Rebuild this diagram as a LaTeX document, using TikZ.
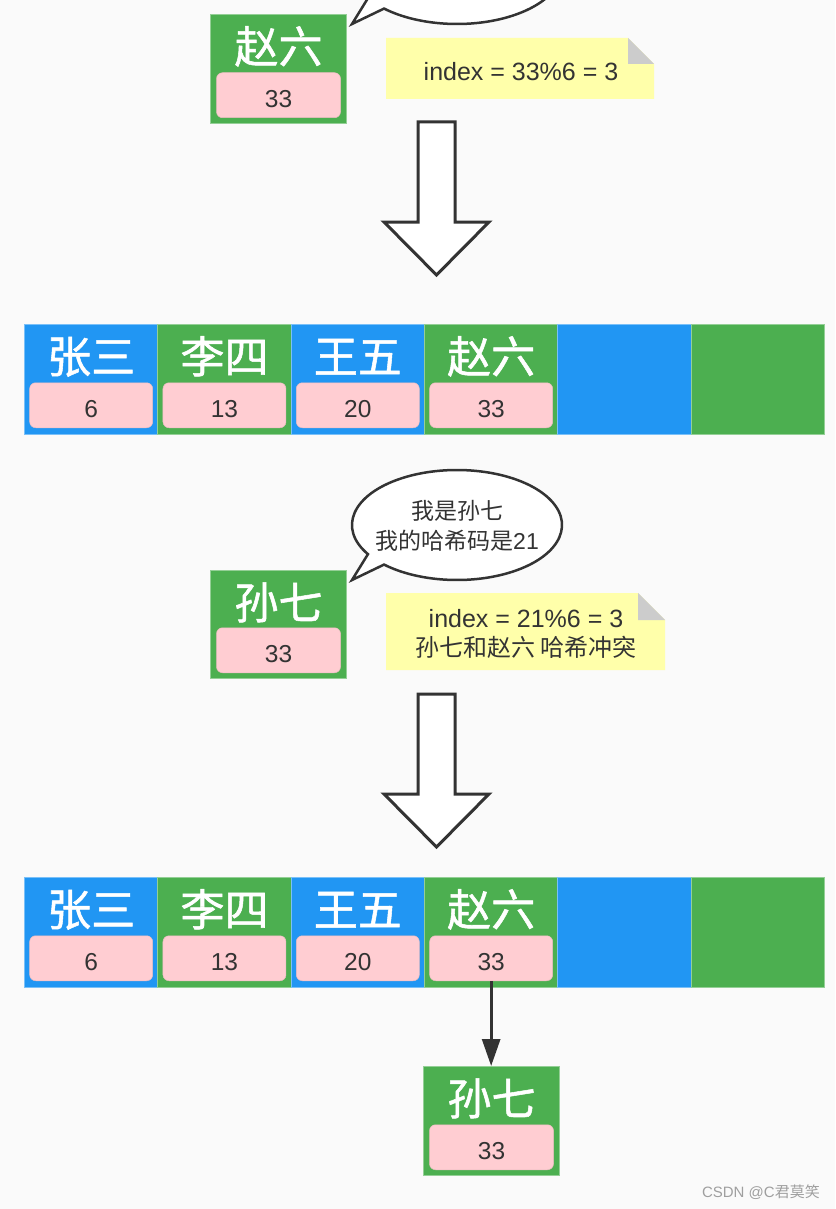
\documentclass[tikz,border=0pt]{standalone}
\usepackage{fontspec}
\setmainfont{Liberation Sans}
\newfontfamily\cjk{Noto Sans CJK SC}
\newfontfamily\cjkname[FakeBold=1.2]{Noto Sans CJK SC}
\usetikzlibrary{positioning,calc,arrows.meta}
\definecolor{cgreen}{HTML}{4CAF50}
\definecolor{cblue}{HTML}{2196F3}
\definecolor{cpink}{HTML}{FFCDD2}
\definecolor{cnote}{HTML}{FFFFAA}
\definecolor{cfold}{HTML}{CCCCCC}
\definecolor{cink}{HTML}{333333}
\definecolor{cback}{HTML}{FAFAFA}
\tikzset{
  cell/.style={rectangle, fill=#1, draw=#1!60!white, line width=1pt, inner sep=0pt,
    minimum width=133.33pt, minimum height=110pt, anchor=north west},
  hashbox/.style={rectangle, rounded corners=6pt, fill=cpink, draw=cpink!92!black,
    line width=0.5pt, minimum width=123pt, minimum height=45pt, inner sep=0pt,
    text height=24pt, text depth=0pt, text=cink, font=\fontsize{24.5}{24.5}\selectfont},
  nametext/.style={anchor=base, inner sep=0pt, text=white, font=\fontsize{44}{44}\selectfont\cjkname},
  notetext/.style={align=center, inner sep=0pt, text=cink, font=\fontsize{25}{29}\selectfont},
  bigarrow/.style={draw=cink, line width=3pt, fill=white, line join=miter},
  bubble/.style={draw=cink, line width=2.5pt, fill=white, line join=miter},
}
\begin{document}
\begin{tikzpicture}[x=1pt, y=-1pt]
\fill[cback] (0,0) rectangle (835,1209);
\clip (0,0) rectangle (835,1209);

% 赵六 comes in
\draw[bubble] (457,-31) ++(148:105 and 55)
  arc[start angle=148, end angle=494, x radius=105, y radius=55] -- (352,24) -- cycle;
\node[cell=cgreen, minimum width=136pt, minimum height=109pt] (zl) at (210,14) {};
\node[nametext] (zlname) at ($(zl.north)+(0,49)$) {赵六};
\node[hashbox, minimum width=124pt, above=6pt of zl.south] (zlh) {33};
\fill[cnote] (386,38) -- (628,38) -- (654,64) -- (654,99) -- (386,99) -- cycle;
\fill[cfold] (628,38) -- (628,64) -- (654,64) -- cycle;
\node[notetext] (idx1) at (521,72) {index = 33\%6 = 3};
\draw[bigarrow] (418,122) -- (455,122) -- (455,222) -- (489,222) -- (436.5,275)
  -- (384,222) -- (418,222) -- cycle;

% the two tables
\foreach \row/\top in {a/324, b/877} {
  \foreach \i/\col in {1/cblue, 2/cgreen, 3/cblue, 4/cgreen, 5/cblue, 6/cgreen}
    \node[cell=\col] (\row\i) at (24+133.33*\i-133.33, \top) {};
  \foreach \i/\nm/\hc in {1/张三/6, 2/李四/13, 3/王五/20, 4/赵六/33} {
    \node[nametext] (\row\i n) at ($(\row\i.north)+(0,49)$) {\nm};
    \node[hashbox, above=7pt of \row\i.south] (\row\i h) {\hc};
  }
}

% 孙七 comes in
\draw[bubble] (457,525) ++(148:105 and 55)
  arc[start angle=148, end angle=494, x radius=105, y radius=55] -- (352,580) -- cycle;
\node[notetext, font=\fontsize{23}{30}\selectfont] (say) at (457,526)
  {{\cjk 我是孙七}\\{\cjk 我的哈希码是}21};
\node[cell=cgreen, minimum width=136pt, minimum height=108pt] (sq) at (210,570) {};
\node[nametext] (sqname) at ($(sq.north)+(0,49)$) {孙七};
\node[hashbox, minimum width=124pt, above=6pt of sq.south] (sqh) {33};
\fill[cnote] (386,593) -- (638,593) -- (665,620) -- (665,670) -- (386,670) -- cycle;
\fill[cfold] (638,593) -- (638,620) -- (665,620) -- cycle;
\node[notetext] (idx2) at (526,634)
  {index = 21\%6 = 3\\{\fontsize{24}{29}\selectfont\cjk 孙七和赵六 哈希冲突}};
\draw[bigarrow] (418,694) -- (455,694) -- (455,794) -- (489,794) -- (436.5,847)
  -- (384,794) -- (418,794) -- cycle;

% 孙七 hangs under 赵六
\node[cell=cgreen, minimum width=136pt, minimum height=109pt] (sq2) at (423,1066) {};
\node[nametext] (sq2name) at ($(sq2.north)+(0,49)$) {孙七};
\node[hashbox, minimum width=124pt, above=6pt of sq2.south] (sq2h) {33};
\draw[-{Triangle[length=27pt,width=18pt]}, line width=3pt, cink]
  (b4h.south) -- (b4h.south |- sq2.north);

\node[anchor=east, inner sep=0pt, text=gray!75, font=\fontsize{15}{15}\selectfont]
  (mark) at (820,1192) {CSDN @C{\cjk 君莫笑}};
\end{tikzpicture}
\end{document}
